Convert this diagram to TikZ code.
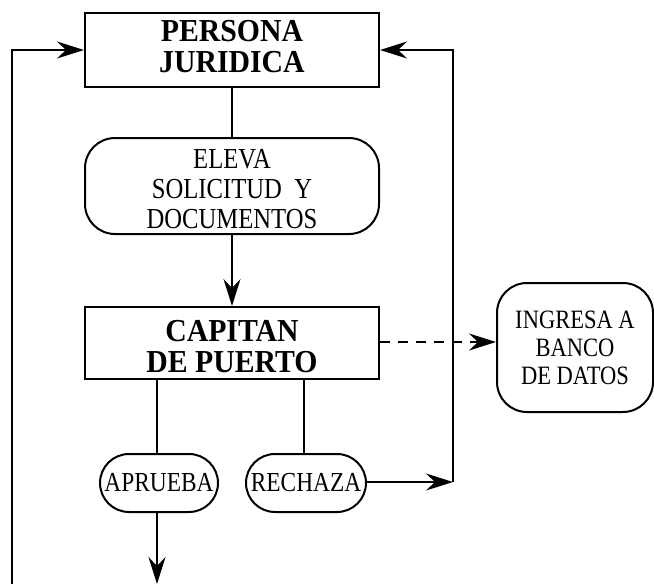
\documentclass[tikz,border=0pt]{standalone}
\usepackage{fontspec}
\setmainfont{Liberation Serif}
\newfontfamily\regf[FakeStretch=0.85]{Liberation Serif}
\newfontfamily\boldf[FakeStretch=0.93]{Liberation Serif}
\usetikzlibrary{arrows.meta}
\begin{document}
\begin{tikzpicture}[x=1pt,y=-1pt,
  line width=2pt,
  boldtxt/.style={font=\boldf\bfseries\fontsize{32}{31}\selectfont, align=center},
  regtxt/.style={font=\regf\fontsize{27.5}{28}\selectfont, align=center},
  box/.style={draw, rectangle, inner sep=0pt},
  rbox/.style={draw, rectangle, rounded corners=30pt, inner sep=0pt},
  pill/.style={draw, rectangle, rounded corners=29pt, inner sep=0pt},
  arr/.style={-{Stealth[length=27pt,width=17pt,inset=9pt]}},
  conn/.style={line width=2pt}]
\useasboundingbox (0,0) rectangle (654,584);
\node[box, boldtxt, minimum width=294pt, minimum height=74pt, text depth=8pt] (pj) at (232,50) {PERSONA\\JURIDICA};
\node[rbox, font=\regf\fontsize{29}{30}\selectfont, align=center, minimum width=294pt, minimum height=96pt, text height=85pt, text depth=0pt] (el) at (232,186) {ELEVA\\SOLICITUD\ \ Y\\DOCUMENTOS};
\node[box, boldtxt, minimum width=294pt, minimum height=72pt, text height=58pt, text depth=0pt] (cp) at (232,343) {CAPITAN\\DE PUERTO};
\node[pill, regtxt, minimum width=118pt, minimum height=58pt] (ap) at (159,483) {APRUEBA};
\node[pill, regtxt, minimum width=120pt, minimum height=58pt] (re) at (306,483) {RECHAZA};
\node[rbox, font=\regf\fontsize{26.5}{28}\selectfont, align=center, minimum width=156pt, minimum height=129pt] (ib) at (575,347.5) {INGRESA A\\BANCO\\DE DATOS};
\coordinate (rr) at (453,482);
\coordinate (lb) at (12,584);
\coordinate (ab) at (157,584);
\draw[conn] (pj.south) -- (el.north);
\draw[conn,arr] (el.south) -- (cp.north);
\draw[conn,arr,dash pattern=on 10pt off 8pt] (cp.east |- 0,342) -- (ib.west |- 0,342);
\draw[conn] (157,379) -- (157,454);
\draw[conn] (304,379) -- (304,454);
\draw[conn,arr] (re.east |- rr) -- (rr);
\draw[conn,arr] (rr) |- (pj.east);
\draw[conn,arr] (lb) |- (pj.west);
\draw[conn,arr] (ap.south -| ab) -- (ab);
\end{tikzpicture}
\end{document}
